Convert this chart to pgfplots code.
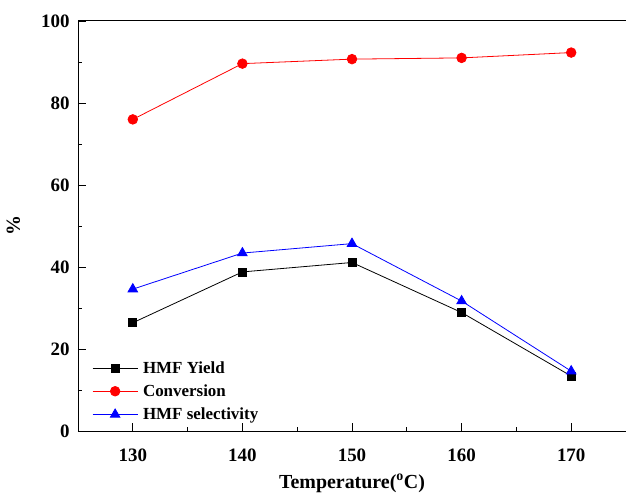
\documentclass[border=0pt]{standalone}
\usepackage{fontspec}
\setmainfont{Liberation Serif}
\usepackage{pgfplots}
\pgfplotsset{compat=1.18}
\begin{document}
\begin{tikzpicture}
\useasboundingbox (-78bp,-62bp) rectangle (548bp,431bp);
\begin{axis}[
  at={(0,0)}, anchor=south west,
  scale only axis, width=548bp, height=410bp,
  xmin=125, xmax=175, ymin=0, ymax=100,
  xtick={130,140,150,160,170}, ytick={0,20,40,60,80,100},
  minor x tick num=1, minor y tick num=1,
  xtick pos=bottom, ytick pos=left, tick align=inside,
  major tick length=8bp, minor tick length=4bp,
  axis line style={line width=1pt}, tick style={line width=0.8pt,black},
  /pgf/number format/assume math mode=true,
  tick label style={font=\fontsize{19}{22}\selectfont\bfseries},
  xticklabel style={yshift=-14bp},
  yticklabel style={xshift=-5bp},
  label style={font=\fontsize{20}{23}\selectfont\bfseries},
  xlabel={Temperature(\textsuperscript{o}C)},
  ylabel={\%},
  xlabel style={yshift=-6bp},
  ylabel style={yshift=14bp},
  legend style={draw=none, fill=none, at={(0.022,0.18)}, anchor=north west,
     font=\fontsize{17}{20}\selectfont\bfseries, row sep=6bp, inner sep=2bp},
  legend cell align=left,
  every axis plot post/.append style={
    legend image code/.code={\draw[#1, mark=none] (0bp,0bp) -- (45bp,0bp);
      \draw[#1, only marks] plot coordinates {(22.5bp,0bp)};}},
]
\addplot[black, line width=0.8pt, mark=square*, mark size=4bp, mark options={solid}] coordinates {
(130,26.4) (140,38.8) (150,41.1) (160,28.9) (170,13.4)};
\addlegendentry{\hspace{3bp}HMF Yield}
\addplot[red, line width=0.8pt, mark=*, mark size=4.8bp] coordinates {
(130,76.0) (140,89.6) (150,90.7) (160,91.0) (170,92.3)};
\addlegendentry{\hspace{3bp}Conversion}
\addplot[blue, line width=0.8pt, mark=triangle*, mark size=5.5bp] coordinates {
(130,34.6) (140,43.4) (150,45.7) (160,31.7) (170,14.6)};
\addlegendentry{\hspace{3bp}HMF selectivity}
\end{axis}
\end{tikzpicture}
\end{document}
